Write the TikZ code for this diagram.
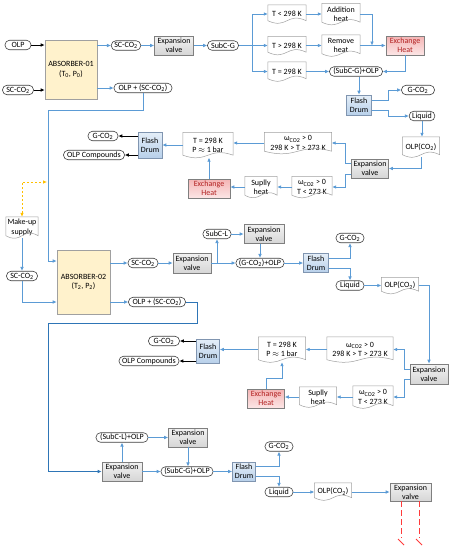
\documentclass[tikz,border=0pt]{standalone}
\usepackage{fontspec}
\setmainfont{Carlito}
\usetikzlibrary{arrows.meta,calc}
\definecolor{ablue}{HTML}{5B9BD5}
\definecolor{dblue}{HTML}{2E75B6}
\definecolor{termgray}{HTML}{404040}
\definecolor{docgray}{HTML}{A0A0A0}
\definecolor{boxgray}{HTML}{7F7F7F}
\definecolor{absfill}{HTML}{FFF2CC}
\definecolor{exred}{HTML}{B22222}
\definecolor{yell}{HTML}{FFC000}
\definecolor{redd}{HTML}{FF3B3B}
\definecolor{vtop}{HTML}{F2F2F2}
\definecolor{vbot}{HTML}{D6D6D6}
\definecolor{ftop}{HTML}{E4EEF8}
\definecolor{fbot}{HTML}{B8D0EA}
\definecolor{fdraw}{HTML}{8095B0}
\definecolor{etop}{HTML}{F4B4B4}
\definecolor{ebot}{HTML}{FCE6E6}
\newcommand\tsub[1]{\textsubscript{#1}}
\newcommand\om{ω\textsubscript{CO2} > 0}
\newcommand\docdraw[1]{\draw[docline] ($(#1.south west)+(0,-2.5)$) -- (#1.north west) -- (#1.north east) -- ($(#1.south east)+(0,-2.5)$) .. controls ($(#1.south)+(0,-11.5)$) and ($(#1.south)+(0,6.5)$) .. ($(#1.south west)+(0,-2.5)$);}
\begin{document}
\begin{tikzpicture}[x=1pt,y=-1pt,
  font=\fontsize{8}{9.3}\selectfont,
  term/.style={draw=termgray, line width=0.6pt, rounded corners=4.5pt, minimum height=9.5pt, inner sep=0.6pt, inner xsep=3pt, fill=white},
  valve/.style={draw=boxgray, line width=0.6pt, top color=vtop, bottom color=vbot, inner sep=0.5pt, align=center},
  flash/.style={draw=fdraw, line width=0.6pt, top color=ftop, bottom color=fbot, inner sep=0.5pt, align=center},
  exch/.style={draw=boxgray, line width=0.6pt, top color=etop, bottom color=ebot, text=exred, inner sep=0.5pt, align=center},
  absbox/.style={draw=docgray, line width=0.6pt, fill=absfill, inner sep=1pt, align=center},
  doc/.style={inner sep=0.5pt, align=center},
  docline/.style={draw=docgray, line width=0.5pt},
  aline/.style={draw=ablue, line width=0.75pt},
  arr/.style={aline, -{Latex[length=4pt,width=3.6pt]}},
  darr/.style={draw=dblue, line width=0.8pt, -{Latex[length=4pt,width=3.6pt]}},
  barrow/.style={draw=black, line width=0.75pt, -{Latex[length=4pt,width=3.6pt]}},
  yarr/.style={draw=yell, line width=0.8pt, dash pattern=on 2.5pt off 1.5pt, {Latex[length=4pt,width=3.6pt]}-{Latex[length=4pt,width=3.6pt]}},
  reddash/.style={draw=redd, line width=0.9pt, dash pattern=on 6pt off 3pt}
]
\useasboundingbox[fill=white] (0,0) rectangle (453,550);

% ---------- top section ----------
\node[term,minimum width=26pt] (olp1) at (18,45) {OLP};
\node[term,minimum width=31pt] (sc0) at (18,90) {SC-CO\tsub{2}};
\node[absbox,minimum width=52pt,minimum height=59pt] (abs1) at (71,69.5) {ABSORBER-01\\(T\tsub{0}, P\tsub{0})};
\node[term,minimum width=28pt] (sc1) at (126,45.5) {SC-CO\tsub{2}};
\node[valve,minimum width=39pt,minimum height=19pt] (v1) at (174,45.5) {Expansion\\valve};
\node[term,minimum width=31pt] (subcg) at (223,45.5) {SubC-G};
\node[term,minimum width=58pt] (olpsc1) at (143,88) {OLP + (SC-CO\tsub{2})};

\node[doc,minimum width=38pt,minimum height=18pt] (d1) at (287,14) {T < 298 K};
\node[doc,minimum width=38pt,minimum height=21pt] (d2) at (341,14) {Addition\\heat};
\node[doc,minimum width=38pt,minimum height=18pt] (d3) at (287,45.5) {T > 298 K};
\node[doc,minimum width=38pt,minimum height=21pt] (d4) at (341,45.5) {Remove\\heat};
\node[doc,minimum width=38pt,minimum height=19pt] (d5) at (287,71.5) {T = 298 K};
\node[exch,minimum width=38pt,minimum height=19pt] (ex1) at (405,45.5) {Exchange\\Heat};
\node[term,minimum width=53pt] (sgolp1) at (356,71.5) {(SubC-G)+OLP};
\node[flash,minimum width=25pt,minimum height=20pt] (fd1) at (359,105) {Flash\\Drum};
\node[term,minimum width=33pt] (g1) at (418,90) {G-CO\tsub{2}};
\node[term,minimum width=25pt] (liq1) at (422,116) {Liquid};
\node[doc,minimum width=37pt,minimum height=20pt] (d6) at (421,147) {OLP(CO\tsub{2})};
\node[valve,minimum width=37pt,minimum height=19pt] (v2) at (370,168.5) {Expansion\\valve};
\node[doc,minimum width=67pt,minimum height=21pt] (d7) at (298,143) {\om\\298 K > T > 273 K};
\node[doc,minimum width=40pt,minimum height=21pt] (d8) at (312,187) {\om\\T < 273 K};
\node[doc,minimum width=32pt,minimum height=21pt] (d9) at (261,187) {Suplly\\heat};
\node[exch,minimum width=42pt,minimum height=19pt] (ex2) at (209,188.5) {Exchange\\Heat};
\node[doc,minimum width=50pt,minimum height=25pt] (d10) at (208,145) {T = 298 K\\P $\approx$ 1 bar};
\node[flash,minimum width=24pt,minimum height=26pt] (fd2) at (150,145) {Flash\\Drum};
\node[term,minimum width=30pt] (g2) at (103,136) {G-CO\tsub{2}};
\node[term,minimum width=61pt] (oc1) at (94,155) {OLP Compounds};

% ---------- middle section ----------
\node[doc,minimum width=32pt,minimum height=21pt] (mk) at (22,227.5) {Make-up\\supply};
\node[term,minimum width=31pt] (sc2) at (22,276) {SC-CO\tsub{2}};
\node[absbox,minimum width=53pt,minimum height=64pt] (abs2) at (83.5,282) {ABSORBER-02\\(T\tsub{2}, P\tsub{2})};
\node[term,minimum width=30pt] (sc3) at (143,263) {SC-CO\tsub{2}};
\node[term,minimum width=57pt] (olpsc2) at (157,302) {OLP + (SC-CO\tsub{2})};
\node[valve,minimum width=38pt,minimum height=20pt] (v3) at (192,263) {Expansion\\valve};
\node[term,minimum width=26pt] (subcl) at (217,234) {SubC-L};
\node[valve,minimum width=40pt,minimum height=19pt] (v4) at (264,234) {Expansion\\valve};
\node[term,minimum width=48pt] (ggolp) at (260,263) {(G-CO\tsub{2})+OLP};
\node[flash,minimum width=25pt,minimum height=19pt] (fd3) at (316,263) {Flash\\Drum};
\node[term,minimum width=28pt] (g3) at (350,238) {G-CO\tsub{2}};
\node[term,minimum width=28pt] (liq2) at (350,285.5) {Liquid};
\node[doc,minimum width=37pt,minimum height=16pt] (d11) at (400,285.5) {OLP(CO\tsub{2})};
\node[valve,minimum width=38pt,minimum height=20pt] (v5) at (429,374) {Expansion\\valve};
\node[doc,minimum width=66pt,minimum height=25pt] (d12) at (360,349.5) {\om\\298 K > T > 273 K};
\node[doc,minimum width=40pt,minimum height=22pt] (d13) at (373,397) {\om\\T < 273 K};
\node[doc,minimum width=37pt,minimum height=20pt] (d14) at (318,397) {Suplly\\heat};
\node[exch,minimum width=37pt,minimum height=19pt] (ex3) at (266,398.5) {Exchange\\Heat};
\node[doc,minimum width=47pt,minimum height=25pt] (d15) at (282,349.5) {T = 298 K\\P $\approx$ 1 bar};
\node[flash,minimum width=23pt,minimum height=24pt] (fd4) at (208,351) {Flash\\Drum};
\node[term,minimum width=31pt] (g4) at (164,341) {G-CO\tsub{2}};
\node[term,minimum width=60pt] (oc2) at (149,361) {OLP Compounds};

% ---------- bottom section ----------
\node[valve,minimum width=40pt,minimum height=19pt] (v6) at (122,471.5) {Expansion\\valve};
\node[term,minimum width=52pt] (slolp) at (122,437.5) {(SubC-L)+OLP};
\node[valve,minimum width=39pt,minimum height=19pt] (v7) at (188,437.5) {Expansion\\valve};
\node[term,minimum width=52pt] (sgolp2) at (187,471.5) {(SubC-G)+OLP};
\node[flash,minimum width=23pt,minimum height=19pt] (fd5) at (244,471.5) {Flash\\Drum};
\node[term,minimum width=28pt] (g5) at (279,446.5) {G-CO\tsub{2}};
\node[term,minimum width=28pt] (liq3) at (279,492) {Liquid};
\node[doc,minimum width=37pt,minimum height=17pt] (d16) at (333,491.5) {OLP(CO\tsub{2})};
\node[valve,minimum width=41pt,minimum height=18pt] (v8) at (410.5,492) {Expansion\\valve};

% document outlines
\foreach \n in {d1,d2,d3,d4,d5,d6,d7,d8,d9,d10,mk,d11,d12,d13,d14,d15,d16} {\docdraw{\n}}

% ---------- connectors: top ----------
\draw[barrow] (olp1) -- (olp1 -| abs1.west);
\draw[barrow] (sc0) -- (sc0 -| abs1.west);
\draw[arr] (abs1.east |- sc1) -- (sc1);
\draw[arr] (sc1) -- (sc1 -| v1.west);
\draw[arr] (v1.east |- subcg) -- (subcg);
\draw[arr] (abs1.east |- olpsc1) -- (olpsc1);
\coordinate (br1) at (252,45.5);
\draw[aline] (subcg) -- (br1);
\draw[arr] (br1) |- (d1.west);
\draw[arr] (br1) -- (br1 -| d3.west);
\draw[arr] (br1) |- (d5.west);
\draw[arr] (d1) -- (d1 -| d2.west);
\draw[arr] (d3) -- (d3 -| d4.west);
\coordinate (j1) at (372,45.5);
\draw[arr] (d2.east) -| (j1);
\draw[arr] (d4) -- (d4 -| ex1.west);
\draw[arr] (ex1.south) |- (sgolp1.east);
\draw[arr] (d5) -- (d5 -| sgolp1.west);
\draw[arr] (sgolp1.south -| fd1.north) -- (fd1.north);
\draw[arr] (fd1.east |- 0,100) -- (388,100) |- (g1.west);
\draw[arr] (fd1.east |- 0,110) -- (388,110) |- (liq1.west);
\draw[arr] (liq1.south) -- (liq1.south |- d6.north);
\draw[arr] (d6.south) |- (v2.east);
\draw[arr] (v2.west |- 0,163.5) -- (345,163.5) |- (d7.east);
\draw[arr] (v2.west |- 0,174) -- (345,174) |- (d8.east);
\draw[arr] (d7.west) -- (d7.west -| d10.east);
\draw[arr] (d8.west) -- (d8.west -| d9.east);
\draw[arr] (d9.west) -- (d9.west -| ex2.east);
\draw[arr] (ex2.north) -- (ex2.north |- d10.south);
\draw[arr] (d10.west) -- (d10.west -| fd2.east);
\draw[barrow] (fd2.west |- g2) -- (g2.east);
\draw[barrow] (fd2.west |- oc1) -- (oc1.east);

% ---------- connectors: middle ----------
\coordinate (yy) at (47,182);
\draw[arr] (olpsc1.south) |- (48,110) -- (48,261) -- (abs2.west |- 0,261);
\draw[yarr] (mk.north) |- (yy);
\draw[arr] (mk.south) -- (mk.south |- sc2.north);
\draw[arr] (sc2.south) |- (abs2.west |- 0,302);
\draw[arr] (abs2.east |- sc3) -- (sc3);
\draw[arr] (abs2.east |- olpsc2) -- (olpsc2);
\draw[arr] (sc3) -- (sc3 -| v3.west);
\draw[arr] (v3.east |- ggolp) -- (ggolp);
\coordinate (br2) at (217,263);
\draw[arr] (br2) -- (subcl.south);
\draw[arr] (subcl) -- (subcl -| v4.west);
\draw[arr] (v4.south -| ggolp.north) -- (ggolp.north);
\draw[arr] (ggolp) -- (ggolp -| fd3.west);
\draw[arr] (fd3.east |- 0,258) -| (g3.south);
\draw[arr] (fd3.east |- 0,268) -| (liq2.north);
\draw[arr] (liq2) -- (liq2 -| d11.west);
\draw[arr] (d11.east) -| (v5.north);
\draw[arr] (v5.west |- 0,369) -- (404,369) |- (d12.east);
\draw[arr] (v5.west |- 0,379) -- (404,379) |- (d13.east);
\draw[arr] (d12.west) -- (d12.west -| d15.east);
\draw[arr] (d13.west) -- (d13.west -| d14.east);
\draw[arr] (d14.west) -- (d14.west -| ex3.east);
\draw[arr] (ex3.north) -- ++(0,-10) -| (d15.south);
\draw[arr] (d15.west) -- (d15.west -| fd4.east);
\draw[barrow] (fd4.west |- g4) -- (g4.east);
\draw[barrow] (fd4.west |- oc2) -- (oc2.east);

% ---------- connectors: bottom ----------
\draw[darr] (olpsc2.east) -| (197,323) -| (48,471.5) -- (v6.west);
\draw[arr] (v6.north) -- (v6.north |- slolp.south);
\draw[arr] (slolp) -- (slolp -| v7.west);
\draw[arr] (v7.south) -- (v7.south |- sgolp2.north);
\draw[arr] (v6.east |- sgolp2) -- (sgolp2);
\draw[arr] (sgolp2) -- (sgolp2 -| fd5.west);
\draw[arr] (fd5.east |- 0,466.5) -| (g5.south);
\draw[arr] (fd5.east |- 0,476.5) -| (liq3.north);
\draw[arr] (liq3) -- (liq3 -| d16.west);
\draw[arr] (d16.east |- v8) -- (v8);
\coordinate (r1) at (401,538);
\coordinate (r2) at (419,538);
\draw[reddash] (v8.south -| r1) -- (r1);
\draw[reddash] (v8.south -| r2) -- (r2);
\draw[draw=redd, line width=0.9pt] (398,539) -- (404,545);
\draw[draw=redd, line width=0.9pt] (416,539) -- (422,545);
\end{tikzpicture}
\end{document}
